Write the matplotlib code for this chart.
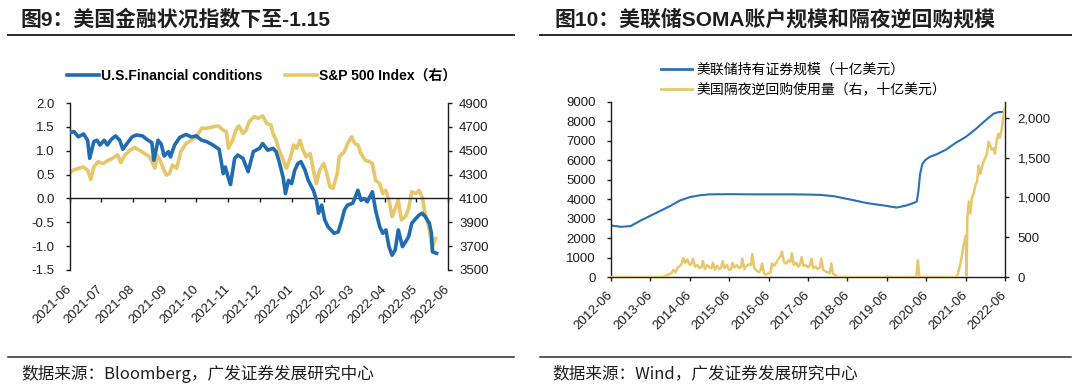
import matplotlib
matplotlib.use('Agg')
import matplotlib.pyplot as plt
import matplotlib.dates as mdates
from matplotlib.lines import Line2D
from matplotlib.ticker import FuncFormatter, MultipleLocator
import pandas as pd

# ---------------- data ----------------
fci_dates = ['2021-06-01', '2021-06-05', '2021-06-09', '2021-06-14', '2021-06-18', '2021-06-20', '2021-06-24',
             '2021-06-27', '2021-06-30', '2021-07-04', '2021-07-07', '2021-07-11', '2021-07-15', '2021-07-19',
             '2021-07-22', '2021-07-26', '2021-07-31', '2021-08-04', '2021-08-10', '2021-08-14', '2021-08-19',
             '2021-08-21', '2021-08-25', '2021-08-28', '2021-08-31', '2021-09-04', '2021-09-06', '2021-09-10',
             '2021-09-15', '2021-09-21', '2021-09-26', '2021-10-01', '2021-10-06', '2021-10-11', '2021-10-17',
             '2021-10-23', '2021-10-27', '2021-10-29', '2021-11-01', '2021-11-03', '2021-11-07', '2021-11-10',
             '2021-11-15', '2021-11-20', '2021-11-25', '2021-12-01', '2021-12-04', '2021-12-09', '2021-12-14',
             '2021-12-17', '2021-12-20', '2021-12-24', '2021-12-26', '2021-12-29', '2022-01-01', '2022-01-04',
             '2022-01-07', '2022-01-10', '2022-01-14', '2022-01-17', '2022-01-22', '2022-01-25', '2022-01-27',
             '2022-01-30', '2022-02-02', '2022-02-05', '2022-02-08', '2022-02-11', '2022-02-15', '2022-02-18',
             '2022-02-21', '2022-02-24', '2022-03-01', '2022-03-06', '2022-03-09', '2022-03-12', '2022-03-15',
             '2022-03-20', '2022-03-23', '2022-03-27', '2022-03-30', '2022-04-02', '2022-04-05', '2022-04-08',
             '2022-04-11', '2022-04-14', '2022-04-18', '2022-04-21', '2022-04-24', '2022-04-27', '2022-05-01',
             '2022-05-04', '2022-05-07', '2022-05-10', '2022-05-14', '2022-05-16', '2022-05-17', '2022-05-21']
fci_values = [1.38, 1.40, 1.29, 1.35, 1.22, 0.84, 1.19,
              1.22, 1.12, 1.22, 1.12, 1.24, 1.31, 1.22,
              1.03, 1.15, 1.29, 1.33, 1.31, 1.24, 1.17,
              0.80, 1.22, 1.14, 0.89, 0.98, 0.87, 1.12,
              1.28, 1.34, 1.29, 1.31, 1.22, 1.19, 1.12,
              1.03, 0.52, 0.66, 0.42, 0.29, 0.84, 0.91,
              0.84, 0.56, 0.98, 1.05, 1.15, 1.01, 1.05,
              0.98, 0.77, 0.42, 0.10, 0.38, 0.31, 0.59,
              0.73, 0.77, 0.59, 0.38, 0.17, -0.04, -0.31,
              -0.14, -0.45, -0.59, -0.66, -0.73, -0.70, -0.49,
              -0.24, -0.14, -0.10, 0.17, -0.04, 0.00, -0.07,
              0.14, -0.24, -0.59, -0.73, -0.66, -1.01, -1.19,
              -1.08, -0.66, -1.01, -0.91, -0.80, -0.52, -0.42,
              -0.35, -0.31, -0.38, -0.52, -0.73, -1.12, -1.15]

spx_dates = ['2021-06-01', '2021-06-04', '2021-06-09', '2021-06-14', '2021-06-18', '2021-06-21', '2021-06-24',
             '2021-06-28', '2021-07-03', '2021-07-08', '2021-07-12', '2021-07-17', '2021-07-20', '2021-07-24',
             '2021-07-29', '2021-08-02', '2021-08-07', '2021-08-12', '2021-08-17', '2021-08-22', '2021-08-24',
             '2021-08-27', '2021-08-30', '2021-09-02', '2021-09-05', '2021-09-08', '2021-09-12', '2021-09-16',
             '2021-09-21', '2021-09-26', '2021-10-01', '2021-10-06', '2021-10-11', '2021-10-17', '2021-10-22',
             '2021-10-27', '2021-10-30', '2021-11-01', '2021-11-05', '2021-11-08', '2021-11-11', '2021-11-15',
             '2021-11-18', '2021-11-21', '2021-11-26', '2021-11-30', '2021-12-04', '2021-12-08', '2021-12-12',
             '2021-12-14', '2021-12-17', '2021-12-20', '2021-12-24', '2021-12-27', '2021-12-31', '2022-01-03',
             '2022-01-06', '2022-01-09', '2022-01-12', '2022-01-15', '2022-01-19', '2022-01-22', '2022-01-25',
             '2022-01-28', '2022-02-01', '2022-02-04', '2022-02-07', '2022-02-10', '2022-02-14', '2022-02-16',
             '2022-02-21', '2022-02-24', '2022-02-28', '2022-03-03', '2022-03-06', '2022-03-09', '2022-03-13',
             '2022-03-17', '2022-03-20', '2022-03-23', '2022-03-27', '2022-03-30', '2022-04-02', '2022-04-05',
             '2022-04-08', '2022-04-11', '2022-04-14', '2022-04-17', '2022-04-21', '2022-04-24', '2022-04-27',
             '2022-05-01', '2022-05-04', '2022-05-07', '2022-05-10', '2022-05-14', '2022-05-17', '2022-05-18',
             '2022-05-20']
spx_values = [4316, 4336, 4352, 4364, 4336, 4260, 4364,
              4408, 4392, 4420, 4436, 4464, 4400, 4464,
              4504, 4528, 4504, 4476, 4448, 4352, 4464,
              4420, 4352, 4296, 4308, 4380, 4352, 4492,
              4560, 4588, 4616, 4688, 4688, 4700, 4708,
              4672, 4660, 4520, 4588, 4672, 4708, 4644,
              4672, 4744, 4784, 4772, 4792, 4728, 4716,
              4644, 4588, 4504, 4420, 4352, 4448, 4548,
              4520, 4588, 4504, 4448, 4476, 4336, 4224,
              4336, 4392, 4308, 4196, 4184, 4308, 4448,
              4492, 4560, 4616, 4560, 4548, 4476, 4420,
              4408, 4392, 4252, 4224, 4140, 4168, 4084,
              3948, 4016, 4084, 3920, 3948, 4016, 4156,
              4140, 4168, 4112, 3976, 3836, 3668, 3724,
              3764]
spx_ticks = [3500, 3700, 3900, 4100, 4300, 4500, 4700, 4900]

soma_dates = ['2012-06-01', '2012-09-01', '2012-12-01', '2013-03-01', '2013-06-01', '2013-09-01', '2013-12-01',
              '2014-03-01', '2014-06-01', '2014-09-01', '2014-12-01', '2015-06-01', '2016-01-01', '2016-06-01',
              '2017-01-01', '2017-06-01', '2017-10-01', '2018-02-01', '2018-07-01', '2018-12-01', '2019-05-01',
              '2019-09-01', '2019-12-01', '2020-02-01', '2020-03-05', '2020-03-20', '2020-04-05', '2020-04-25',
              '2020-05-20', '2020-07-01', '2020-09-01', '2020-12-01', '2021-03-01', '2021-06-01', '2021-09-01',
              '2021-12-01', '2022-02-15', '2022-04-01', '2022-06-01']
soma_values = [2650, 2580, 2620, 2900, 3150, 3400, 3650,
               3930, 4110, 4200, 4250, 4260, 4250, 4250,
               4250, 4240, 4220, 4150, 3980, 3800, 3680,
               3570, 3680, 3800, 3880, 4400, 5300, 5800,
               6000, 6170, 6300, 6550, 6900, 7200, 7600,
               8050, 8400, 8480, 8490]

rrp_dates = ['2012-06-01', '2013-09-15', '2013-10-15', '2013-11-15', '2013-12-15', '2014-01-02', '2014-01-20',
             '2014-02-10', '2014-03-03', '2014-03-20', '2014-04-01', '2014-04-20', '2014-05-10', '2014-06-02',
             '2014-06-20', '2014-07-01', '2014-07-20', '2014-08-10', '2014-09-02', '2014-09-20', '2014-10-01',
             '2014-10-20', '2014-11-10', '2014-12-02', '2014-12-20', '2015-01-02', '2015-01-20', '2015-02-10',
             '2015-03-02', '2015-03-20', '2015-04-01', '2015-04-20', '2015-05-10', '2015-06-02', '2015-06-20',
             '2015-07-01', '2015-07-20', '2015-08-10', '2015-09-02', '2015-09-20', '2015-10-01', '2015-10-20',
             '2015-11-10', '2015-12-02', '2015-12-20', '2016-01-02', '2016-01-20', '2016-02-10', '2016-03-02',
             '2016-03-20', '2016-04-01', '2016-04-20', '2016-05-10', '2016-06-02', '2016-06-20', '2016-07-01',
             '2016-07-20', '2016-08-10', '2016-09-02', '2016-09-20', '2016-10-03', '2016-10-20', '2016-11-10',
             '2016-12-02', '2016-12-20', '2017-01-03', '2017-01-20', '2017-02-10', '2017-03-02', '2017-03-20',
             '2017-04-03', '2017-04-20', '2017-05-10', '2017-06-02', '2017-06-20', '2017-07-03', '2017-07-20',
             '2017-08-10', '2017-09-01', '2017-09-20', '2017-10-02', '2017-10-20', '2017-11-10', '2017-12-01',
             '2017-12-20', '2018-01-02', '2018-01-20', '2018-02-10', '2018-03-01', '2018-03-20', '2019-06-01',
             '2019-06-10', '2019-06-20', '2020-03-01', '2020-03-15', '2020-03-30', '2021-03-01', '2021-03-20',
             '2021-04-10', '2021-04-25', '2021-05-10', '2021-05-25', '2021-06-05', '2021-06-10', '2021-06-17',
             '2021-07-01', '2021-07-15', '2021-07-30', '2021-08-15', '2021-08-30', '2021-09-15', '2021-09-30',
             '2021-10-15', '2021-10-30', '2021-11-15', '2021-11-30', '2021-12-15', '2021-12-31', '2022-01-15',
             '2022-01-30', '2022-02-15', '2022-02-28', '2022-03-15', '2022-03-31', '2022-04-15', '2022-04-30',
             '2022-05-15', '2022-05-27', '2022-06-01']
rrp_values = [0, 0, 10, 30, 50, 90, 60,
              120, 140, 170, 240, 180, 220, 150,
              170, 230, 130, 150, 110, 130, 200,
              100, 150, 120, 110, 180, 90, 140,
              100, 120, 200, 110, 150, 90, 100,
              180, 120, 150, 110, 130, 230, 100,
              140, 160, 150, 290, 110, 80, 60,
              90, 170, 40, 30, 50, 60, 170,
              140, 180, 230, 260, 320, 190, 170,
              210, 190, 300, 150, 180, 130, 160,
              250, 140, 150, 120, 150, 230, 110,
              130, 100, 120, 230, 90, 70, 60,
              50, 170, 40, 20, 5, 0, 0,
              10, 0, 0, 210, 0, 0, 30,
              150, 250, 370, 480, 520, 0, 750,
              950, 800, 1000, 1050, 1150, 1200, 1400,
              1300, 1380, 1450, 1500, 1550, 1700, 1650,
              1600, 1620, 1550, 1700, 1800, 1750, 1850,
              2000, 2120, 2080]
rrp_ticks = [0, 500, 1000, 1500, 2000]

left_title = '图9：美国金融状况指数下至-1.15'
right_title = '图10：美联储SOMA账户规模和隔夜逆回购规模'
left_source = '数据来源：Bloomberg，广发证券发展研究中心'
right_source = '数据来源：Wind，广发证券发展研究中心'
fci_label = 'U.S.Financial conditions'
spx_label = 'S&P 500 Index（右）'
soma_label = '美联储持有证券规模（十亿美元）'
rrp_label = '美国隔夜逆回购使用量（右，十亿美元）'

# ---------------- style ----------------
LAT = ['Liberation Sans', 'Noto Sans CJK SC']
CJK = ['Noto Sans CJK SC', 'Liberation Sans']
plt.rcParams['font.family'] = LAT
BLUE = '#1f6db0'
YELLOW = '#e7c76a'
TXT = '#1e1e1e'
TICKFS = 9.5

fig = plt.figure(figsize=(10.8, 3.9), dpi=100)
W, H = 1080, 390


def axrect(x0, y0, x1, y1):
    return [x0 / W, 1 - y1 / H, (x1 - x0) / W, (y1 - y0) / H]


# ---------------- left panel ----------------
axL = fig.add_axes(axrect(70, 103, 448, 270))
axL2 = axL.twinx()
d1 = pd.to_datetime(fci_dates)
d2 = pd.to_datetime(spx_dates)
axL.plot(d1, fci_values, color=BLUE, lw=2.6, solid_joinstyle='round', zorder=3)
axL2.plot(d2, spx_values, color=YELLOW, lw=2.6, solid_joinstyle='round', zorder=2)
axL.set_zorder(axL2.get_zorder() + 1)
axL.patch.set_visible(False)

axL.set_xlim(pd.Timestamp('2021-06-01'), pd.Timestamp('2022-06-01'))
axL.set_ylim(-1.5, 2.0)
axL.yaxis.set_major_locator(MultipleLocator(0.5))
axL.yaxis.set_major_formatter(FuncFormatter(lambda v, p: f'{v:.1f}'))
axL2.set_ylim(spx_ticks[0], spx_ticks[-1])
axL2.set_yticks(spx_ticks)
axL.xaxis.set_major_locator(mdates.MonthLocator())
axL.xaxis.set_major_formatter(mdates.DateFormatter('%Y-%m'))

for a in (axL, axL2):
    a.spines['top'].set_visible(False)
axL.spines['right'].set_visible(False)
axL2.spines['left'].set_visible(False)
axL2.spines['bottom'].set_visible(False)
axL.spines['bottom'].set_position(('data', 0))
for s in ('left', 'bottom'):
    axL.spines[s].set_color(TXT)
    axL.spines[s].set_linewidth(1.0)
axL2.spines['right'].set_color(TXT)
axL2.spines['right'].set_linewidth(1.0)

axL.tick_params(axis='y', direction='out', length=3, width=1, colors=TXT, labelsize=TICKFS, pad=8)
axL2.tick_params(axis='y', direction='out', length=3, width=1, colors=TXT, labelsize=TICKFS, pad=5)
axL.tick_params(axis='x', direction='out', length=3, width=1, colors=TXT, labelsize=TICKFS, pad=61)
for lab in axL.get_xticklabels():
    lab.set_rotation(45)
    lab.set_ha('right')
    lab.set_va('center')
    lab.set_rotation_mode('anchor')

hL = [Line2D([], [], color=BLUE, lw=2.6), Line2D([], [], color=YELLOW, lw=2.6)]
fig.legend(hL, [fci_label, spx_label], loc='center left', bbox_to_anchor=(67 / W, 1 - 76 / H),
           ncol=2, frameon=False, handlelength=2.3, handletextpad=0.15, columnspacing=1.6,
           borderpad=0, borderaxespad=0, prop={'family': LAT, 'size': 10, 'weight': 'bold'})

# ---------------- right panel ----------------
axR = fig.add_axes(axrect(611, 102, 1005, 277))
axR2 = axR.twinx()
d3 = pd.to_datetime(soma_dates)
d4 = pd.to_datetime(rrp_dates)
axR.plot(d3, soma_values, color='#2a72b5', lw=1.5, zorder=2)
axR2.plot(d4, rrp_values, color=YELLOW, lw=1.8, zorder=3)

axR.set_xlim(pd.Timestamp('2012-06-01'), pd.Timestamp('2022-06-01'))
axR.set_ylim(0, 9000)
axR.yaxis.set_major_locator(MultipleLocator(1000))
axR2.set_ylim(0, 2200)
axR2.set_yticks(rrp_ticks)
axR2.yaxis.set_major_formatter(FuncFormatter(lambda v, p: f'{int(v):,}'))
axR.xaxis.set_major_locator(mdates.MonthLocator(bymonth=6, bymonthday=1))
axR.xaxis.set_major_formatter(mdates.DateFormatter('%Y-%m'))

for a in (axR, axR2):
    a.spines['top'].set_visible(False)
axR.spines['right'].set_visible(False)
axR2.spines['left'].set_visible(False)
axR2.spines['bottom'].set_visible(False)
for s in ('left', 'bottom'):
    axR.spines[s].set_color(TXT)
    axR.spines[s].set_linewidth(1.0)
axR2.spines['right'].set_color(TXT)
axR2.spines['right'].set_linewidth(1.0)

axR.tick_params(axis='y', direction='out', length=3, width=1, colors=TXT, labelsize=TICKFS, pad=8)
axR2.tick_params(axis='y', direction='out', length=3, width=1, colors=TXT, labelsize=TICKFS, pad=6)
axR.tick_params(axis='x', direction='out', length=3, width=1, colors=TXT, labelsize=TICKFS, pad=9)
for lab in axR.get_xticklabels():
    lab.set_rotation(45)
    lab.set_ha('right')
    lab.set_va('center')
    lab.set_rotation_mode('anchor')

hR = [Line2D([], [], color='#2a72b5', lw=2.0), Line2D([], [], color=YELLOW, lw=2.0)]
fig.legend(hR, [soma_label, rrp_label], loc='center left', bbox_to_anchor=(661 / W, 1 - 79.5 / H),
           ncol=1, frameon=False, handlelength=2.2, handletextpad=0.35, labelspacing=0.45,
           borderpad=0, borderaxespad=0, prop={'family': CJK, 'size': 10})

# ---------------- titles, rules, sources ----------------
fig.text(21 / W, 1 - 19 / H, left_title, fontsize=15, fontweight='bold', color=TXT,
         family=LAT, va='center', ha='left')
fig.text(554 / W, 1 - 19 / H, right_title, fontsize=15, fontweight='bold', color=TXT,
         family=LAT, va='center', ha='left')
for (xa, xb) in ((8, 514), (540, 1071)):
    fig.add_artist(Line2D([xa / W, xb / W], [1 - 35 / H, 1 - 35 / H], color='#2b2b2b', lw=1.4,
                          transform=fig.transFigure))
    fig.add_artist(Line2D([xa / W, xb / W], [1 - 356.5 / H, 1 - 356.5 / H], color='#2b2b2b', lw=1.1,
                          transform=fig.transFigure))
fig.text(21 / W, 1 - 374 / H, left_source, fontsize=12, color=TXT, family=CJK, va='center', ha='left')
fig.text(552 / W, 1 - 374 / H, right_source, fontsize=12, color=TXT, family=CJK, va='center', ha='left')

fig.savefig('out.png', dpi=100)
